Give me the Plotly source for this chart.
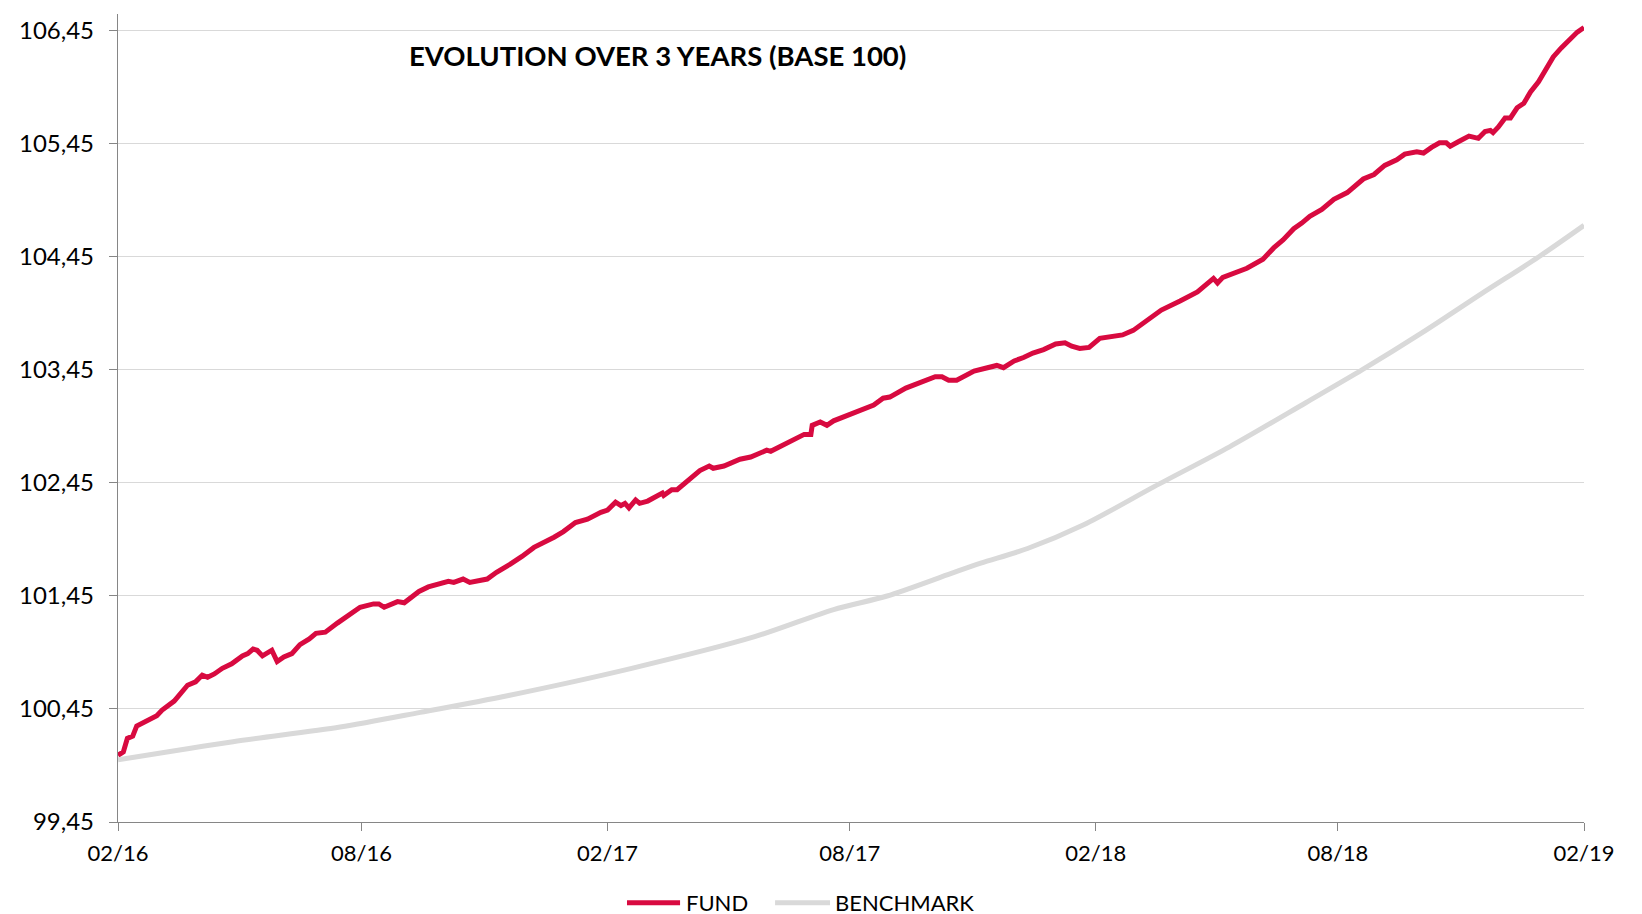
import pandas as pd
import plotly.graph_objects as go

START = "2016-02-01"

fund_days = [0, 4, 7, 11, 14, 22, 29, 33, 42, 52, 58, 63, 67, 72, 78, 85, 93, 97, 101, 104,
             108, 115, 119, 124, 130, 136, 143, 148, 155, 164, 174, 181, 191, 195, 199, 209, 214, 219, 225, 232,
             240, 247, 251, 258, 263, 268, 276, 283, 291, 293, 302, 311, 326, 333, 342, 351, 361, 366, 372, 376,
             379, 382, 387, 390, 396, 402, 407, 408, 414, 418, 425, 435, 442, 445, 453, 460, 465, 473, 479, 485,
             488, 493, 500, 506, 513, 518, 519, 525, 530, 535, 542, 550, 557, 565, 572, 577, 589, 597, 605, 611,
             616, 621, 627, 635, 640, 650, 657, 662, 670, 677, 684, 692, 701, 708, 713, 719, 726, 734, 744, 751,
             759, 769, 780, 794, 807, 819, 822, 826, 836, 844, 856, 864, 871, 879, 885, 891, 900, 909, 919, 931,
             939, 947, 956, 962, 971, 976, 982, 988, 993, 996, 1002, 1010, 1017, 1022, 1026, 1028, 1032, 1037, 1041, 1046,
             1051, 1056, 1062, 1067, 1069, 1073, 1079, 1086, 1091, 1096]

fund_values = [100.04, 100.07, 100.19, 100.21, 100.30, 100.35, 100.39, 100.44, 100.52, 100.66, 100.69, 100.75, 100.73, 100.76, 100.81, 100.85, 100.92, 100.94, 100.98, 100.97,
               100.92, 100.97, 100.87, 100.91, 100.94, 101.02, 101.07, 101.12, 101.13, 101.21, 101.30, 101.35, 101.38, 101.38, 101.35, 101.40, 101.39, 101.43, 101.49, 101.53,
               101.56, 101.58, 101.57, 101.60, 101.57, 101.58, 101.60, 101.66, 101.71, 101.73, 101.80, 101.88, 101.97, 102.02, 102.10, 102.13, 102.19, 102.21, 102.28, 102.25,
               102.27, 102.23, 102.30, 102.27, 102.29, 102.33, 102.36, 102.34, 102.39, 102.39, 102.46, 102.56, 102.60, 102.58, 102.60, 102.63, 102.66, 102.68, 102.71, 102.74,
               102.73, 102.76, 102.80, 102.84, 102.88, 102.88, 102.96, 102.99, 102.96, 103.00, 103.03, 103.07, 103.10, 103.14, 103.20, 103.21, 103.29, 103.33, 103.36, 103.39,
               103.39, 103.36, 103.36, 103.41, 103.44, 103.47, 103.49, 103.47, 103.53, 103.56, 103.60, 103.63, 103.68, 103.69, 103.66, 103.64, 103.65, 103.73, 103.75, 103.76,
               103.80, 103.88, 103.98, 104.06, 104.14, 104.26, 104.22, 104.27, 104.31, 104.35, 104.43, 104.53, 104.60, 104.70, 104.75, 104.81, 104.87, 104.96, 105.02, 105.14,
               105.18, 105.26, 105.31, 105.36, 105.38, 105.37, 105.42, 105.46, 105.46, 105.43, 105.47, 105.52, 105.50, 105.56, 105.57, 105.55, 105.60, 105.68, 105.68, 105.77,
               105.81, 105.91, 106.00, 106.10, 106.15, 106.22, 106.30, 106.38, 106.44, 106.48]

bench_days = [0, 86, 166, 226, 292, 384, 476, 535, 575, 623, 645, 680, 722, 775, 831, 888, 930, 975, 1020, 1062, 1096]
bench_values = [100.00, 100.16, 100.29, 100.42, 100.57, 100.81, 101.09, 101.33, 101.45, 101.65, 101.74, 101.87, 102.08,
                102.42, 102.77, 103.16, 103.45, 103.78, 104.13, 104.45, 104.73]

series_names = ["FUND", "BENCHMARK"]
series_colors = ["#D80A40", "#D9D9D9"]

y_ticks = [99.45, 100.45, 101.45, 102.45, 103.45, 104.45, 105.45, 106.45]
x_ticks = ["2016-02-01", "2016-08-01", "2017-02-01", "2017-08-01", "2018-02-01", "2018-08-01", "2019-02-01"]
x_ticktext = ["02/16", "08/16", "02/17", "08/17", "02/18", "08/18", "02/19"]

assert len(fund_days) == len(fund_values)
assert len(bench_days) == len(bench_values)

start = pd.Timestamp(START)
fund_dates = [start + pd.Timedelta(days=d) for d in fund_days]
bench_dates = [start + pd.Timedelta(days=d) for d in bench_days]

FONT = "Lato"
AXIS_GREY = "#868686"
fig = go.Figure()
fig.add_trace(go.Scatter(x=fund_dates, y=fund_values, name=series_names[0], mode="lines",
                         line=dict(color=series_colors[0], width=5), showlegend=False))
fig.add_trace(go.Scatter(x=bench_dates, y=bench_values, name=series_names[1], mode="lines",
                         line=dict(color=series_colors[1], width=5, shape="spline", smoothing=0.8),
                         showlegend=False))

# custom legend below the plot (Excel-style long line swatches)
legend_y = -0.0998
legend_items = [
    (series_names[0], series_colors[0], 0.3472, 0.3834, 0.3862),
    (series_names[1], series_colors[1], 0.4482, 0.4857, 0.4874),
]
shapes = []
annotations = [dict(text="<b>EVOLUTION OVER 3 YEARS (BASE 100)</b>", xref="paper", yref="paper",
                    x=0.368, y=0.9487, xanchor="center", yanchor="middle", showarrow=False,
                    font=dict(family=FONT, size=27.5, color="#000000"))]
for name, color, x0, x1, xt in legend_items:
    shapes.append(dict(type="line", xref="paper", yref="paper", x0=x0, x1=x1, y0=legend_y, y1=legend_y,
                       line=dict(color=color, width=5)))
    annotations.append(dict(text=name, xref="paper", yref="paper", x=xt, y=legend_y,
                            xanchor="left", yanchor="middle", showarrow=False,
                            font=dict(family=FONT, size=22, color="#000000")))

fig.update_layout(
    width=1642, height=914,
    margin=dict(l=110, r=66, t=6, b=100),
    plot_bgcolor="white", paper_bgcolor="white",
    separators=", ",
    font=dict(family=FONT, color="#000000", size=23),
    showlegend=False,
    shapes=shapes,
    annotations=annotations,
)
fig.update_xaxes(type="date", range=[x_ticks[0], x_ticks[-1]], tickvals=x_ticks, ticktext=x_ticktext,
                 showgrid=False, showline=True, linecolor=AXIS_GREY, linewidth=1.3,
                 ticks="outside", ticklen=8, tickcolor=AXIS_GREY, tickwidth=1.3,
                 ticklabelstandoff=3,
                 tickfont=dict(family=FONT, size=22, color="#000000"), zeroline=False)
fig.update_yaxes(range=[99.45, 106.6], tickvals=y_ticks, tickformat=".2f",
                 showgrid=True, gridcolor="#D9D9D9", gridwidth=1.3,
                 showline=True, linecolor=AXIS_GREY, linewidth=1.3,
                 ticks="outside", ticklen=8, tickcolor=AXIS_GREY, tickwidth=1.3,
                 ticklabelstandoff=10,
                 tickfont=dict(family=FONT, size=24, color="#000000"), zeroline=False)

fig.write_html("out.html")
